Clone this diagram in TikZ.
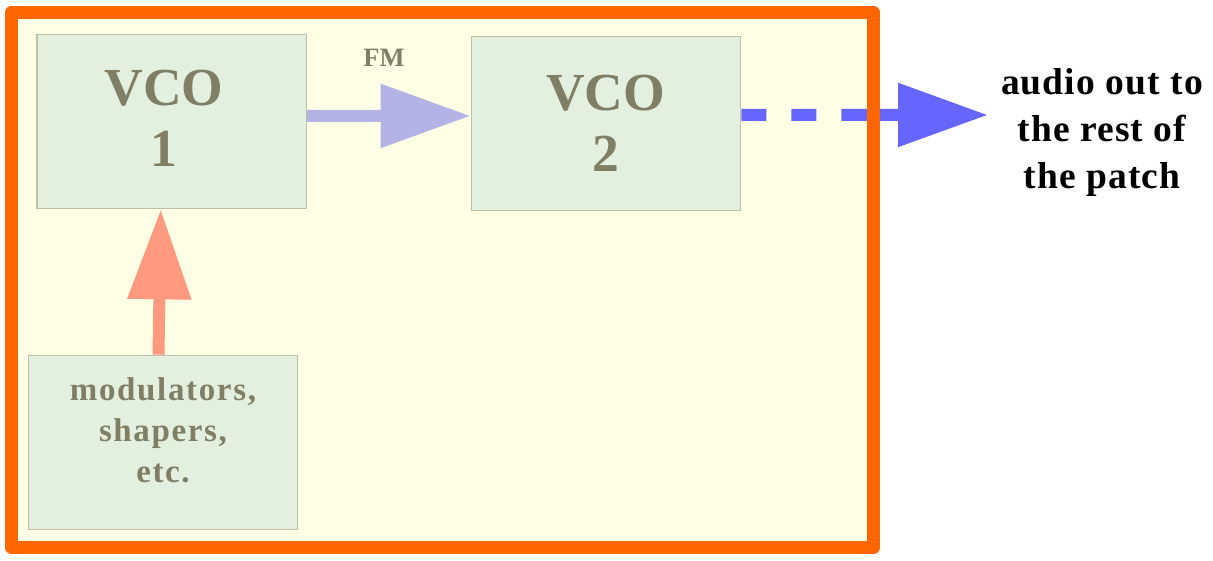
\documentclass[tikz,border=0pt]{standalone}
\usepackage{fontspec}
\setmainfont{Liberation Serif}
\usetikzlibrary{arrows.meta}
\definecolor{frameorange}{HTML}{FF6600}
\definecolor{paleyellow}{HTML}{FFFFE5}
\definecolor{boxfill}{HTML}{E4F0DF}
\definecolor{boxline}{HTML}{BFBFA5}
\definecolor{boxtext}{HTML}{807F66}
\definecolor{fmblue}{HTML}{B3B3E6}
\definecolor{salmon}{HTML}{FF9980}
\definecolor{outblue}{HTML}{6666FF}
\tikzset{
  modbox/.style={draw=boxline, fill=boxfill, line width=1.2pt, rectangle, inner sep=0pt,
    minimum width=269.4pt, minimum height=174.4pt},
  vcotext/.style={text=boxtext, align=center, anchor=base, inner sep=0pt,
    font=\fontsize{53.5}{61}\selectfont\bfseries},
  modtext/.style={text=boxtext, align=center, anchor=base, inner sep=0pt,
    font=\fontsize{33}{41.3}\selectfont\bfseries\addfontfeature{LetterSpace=5}},
  fmtext/.style={text=boxtext, anchor=base, inner sep=0pt,
    font=\fontsize{26.5}{30}\selectfont\bfseries},
  outtext/.style={text=black, align=center, anchor=base, inner sep=0pt,
    font=\fontsize{37.5}{47}\selectfont\bfseries\addfontfeature{LetterSpace=3}},
  fatarrow/.style={line width=12pt, -{Triangle[length=90pt, width=61pt]}}
}
\begin{document}
\begin{tikzpicture}[x=1pt, y=-1pt]
\path[use as bounding box, fill=white] (0,0) rectangle (1213,561);
% frame fill
\fill[paleyellow] (11.5,12.5) rectangle (873.5,547.5);
% boxes
\node[modbox] (vco1) at (171.75,121.5) {};
\node[modbox] (vco2) at (606,123.4) {};
\node[modbox] (mod) at (163,442.5) {};
% texts (anchored at the baseline of their last line)
\node[vcotext] (vco1t) at (164,166.7) {VCO\\1};
\node[vcotext] (vco2t) at (605.5,171.7) {VCO\\2};
\node[modtext] (modt) at (163,482.7) {modulators,\\shapers,\\etc.};
\node[fmtext] (fm) at (384,66.7) {FM};
\node[outtext] (outt) at (1102,188.3) {audio out to\\the rest of\\the patch};
\coordinate (outtip) at (988,115);
% connectors
\draw[fatarrow, fmblue] ([yshift=5.5pt]vco1.east) -- ([yshift=7.5pt]vco2.west);
\draw[fatarrow, salmon] ([xshift=-4.5pt]mod.north) -- ([xshift=-11pt]vco1.south);
\draw[fatarrow, outblue, dash pattern=on 25pt off 25pt on 25pt off 25pt on 120pt]
  ([yshift=8.5pt]vco2.east) -- (outtip);
% frame stroke
\draw[frameorange, line width=13pt, line join=round] (11.5,12.5) rectangle (873.5,547.5);
\end{tikzpicture}
\end{document}
